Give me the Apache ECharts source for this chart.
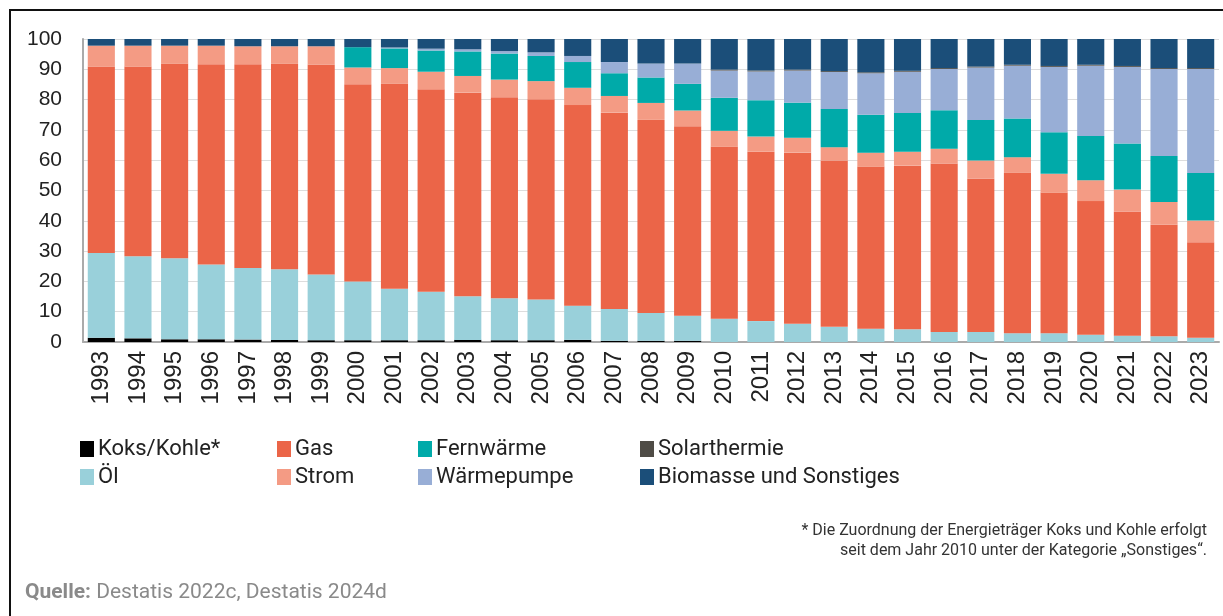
<!DOCTYPE html>
<html style="height: 100%; width: 100%;">
<head>
  <meta charset="UTF-8">
  <title>Beheizung</title>
  <script src="https://cdn.jsdelivr.net/npm/echarts@6/dist/echarts.min.js"></script>
</head>
<body style="height: 100%; margin: 0; background: #fff;">
  <div id="main" style="width: 1223px; height: 616px;"></div>
  <script type="text/javascript">
    // Anteile in Prozent, 1993 - 2023
    var years = ['1993','1994','1995','1996','1997','1998','1999','2000','2001','2002','2003',
      '2004','2005','2006','2007','2008','2009','2010','2011','2012','2013','2014','2015',
      '2016','2017','2018','2019','2020','2021','2022','2023'];
    var yTicks = [0, 10, 20, 30, 40, 50, 60, 70, 80, 90, 100];

    var koks = [1.4,1.2,0.9,0.9,0.8,0.7,0.6,0.6,0.6,0.6,0.7,0.6,0.6,0.7,0.4,0.4,0.4,
      0,0,0,0,0,0,0,0,0,0,0,0,0,0];
    var oel = [28.0,27.1,26.7,24.7,23.6,23.3,21.7,19.4,17.0,16.0,14.4,13.8,13.4,11.3,10.5,9.2,8.3,
      7.7,6.9,6.0,5.0,4.4,4.2,3.3,3.3,2.9,2.9,2.4,2.1,1.9,1.4];
    var gas = [61.5,62.6,64.2,66.1,67.3,67.8,69.3,65.1,67.6,66.8,67.2,66.4,66.1,66.2,64.8,63.7,62.5,
      56.7,55.9,56.5,54.9,53.4,54.0,55.6,50.7,52.9,46.4,44.1,41.0,36.8,31.5];
    var strom = [6.9,6.9,6.0,6.1,5.9,5.8,6.0,5.5,5.2,5.8,5.5,5.8,6.0,5.7,5.5,5.6,5.2,
      5.3,5.0,4.9,4.4,4.7,4.6,4.9,5.9,5.2,6.2,6.9,7.2,7.5,7.2];
    var fernwaerme = [0,0,0,0,0,0,0,6.7,6.5,7.0,8.1,8.6,8.3,8.5,7.5,8.4,8.8,
      10.9,12.0,11.6,12.6,12.5,12.8,12.7,13.4,12.8,13.7,14.6,15.2,15.2,15.7];
    var waermepumpe = [0,0,0,0,0,0,0,0,0.3,0.6,0.7,0.8,1.2,2.0,3.7,4.6,6.7,
      9.0,9.5,10.6,12.2,13.7,13.6,13.6,17.3,17.4,21.6,23.2,25.3,28.7,34.3];
    var solar = [0,0,0,0,0,0,0,0,0,0,0,0,0,0,0,0,0,
      0.3,0.3,0.3,0.3,0.3,0.3,0.3,0.3,0.3,0.3,0.3,0.3,0.3,0.3];
    var biomasse = [2.2,2.2,2.2,2.2,2.4,2.4,2.4,2.7,2.8,3.2,3.4,4.0,4.4,5.6,7.6,8.1,8.1,
      10.1,10.4,10.1,10.6,11.0,10.5,9.6,9.1,8.5,8.9,8.5,8.9,9.6,9.6];

    var names = ['Koks/Kohle*', 'Öl', 'Gas', 'Strom', 'Fernwärme', 'Wärmepumpe', 'Solarthermie', 'Biomasse und Sonstiges'];
    var colors = ['#000000', '#99d0da', '#eb6548', '#f49b84', '#00aaa9', '#98aed6', '#4f4c46', '#1b4e79'];
    var values = [koks, oel, gas, strom, fernwaerme, waermepumpe, solar, biomasse];

    var footnote = [
      '* Die Zuordnung der Energieträger Koks und Kohle erfolgt',
      'seit dem Jahr 2010 unter der Kategorie \u201eSonstiges\u201c.'
    ];

    var series = names.map(function (n, i) {
      return {
        name: n,
        type: 'bar',
        stack: 'total',
        barCategoryGap: '26%',
        itemStyle: { color: colors[i] },
        data: values[i]
      };
    });

    var legendCols = [80, 277, 418, 640];
    var legends = legendCols.map(function (x, i) {
      return {
        orient: 'vertical',
        left: x,
        top: 438,
        padding: 0,
        itemWidth: 14,
        itemHeight: 16,
        itemGap: 6,
        icon: 'rect',
        selectedMode: false,
        textStyle: { fontFamily: 'Roboto', fontSize: 22, color: '#222', lineHeight: 22, padding: [0, 0, 0, -1] },
        data: [names[i * 2], names[i * 2 + 1]]
      };
    });

    var chart = echarts.init(document.getElementById('main'), null, { renderer: 'canvas' });
    var options = {
      animation: false,
      grid: { left: 83, right: 4, top: 39, bottom: 274 },
      legend: legends,
      xAxis: {
        type: 'category',
        data: years,
        axisLine: { lineStyle: { color: '#aaa', width: 2 } },
        axisTick: { show: false },
        axisLabel: { rotate: 90, margin: 9, fontFamily: 'Liberation Sans', fontSize: 24, color: '#222' }
      },
      yAxis: {
        type: 'value',
        min: yTicks[0],
        max: yTicks[yTicks.length - 1],
        interval: 10,
        axisLine: { show: true, lineStyle: { color: '#aaa', width: 2 } },
        axisTick: { show: false },
        splitLine: { lineStyle: { color: '#ddd', width: 1 } },
        axisLabel: { margin: 21, fontFamily: 'Liberation Sans', fontSize: 21, color: '#222' }
      },
      graphic: [
        {
          type: 'rect',
          shape: { x: 10, y: 10, width: 1400, height: 800 },
          style: { fill: null, stroke: '#111', lineWidth: 2 }
        },
        {
          type: 'text',
          x: 1207,
          y: 531,
          style: { text: footnote[0], align: 'right', verticalAlign: 'middle', fontFamily: 'Roboto', fontSize: 16, fill: '#333' }
        },
        {
          type: 'text',
          x: 1207,
          y: 551,
          style: { text: footnote[1], align: 'right', verticalAlign: 'middle', fontFamily: 'Roboto', fontSize: 16, fill: '#333' }
        },
        {
          type: 'text',
          x: 25,
          y: 593,
          style: {
            text: '{b|Quelle:} Destatis 2022c, Destatis 2024d',
            verticalAlign: 'middle',
            fontFamily: 'Roboto',
            fontSize: 21,
            fill: '#8a8a8a',
            rich: {
              b: { fontFamily: 'Roboto', fontSize: 21, fontWeight: 'bold', fill: '#8a8a8a' }
            }
          }
        }
      ],
      series: series
    };
    chart.setOption(options);
  </script>
</body>
</html>
